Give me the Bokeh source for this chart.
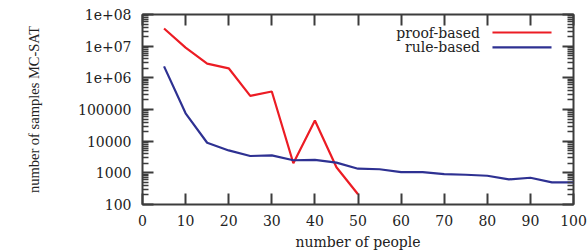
from bokeh.plotting import figure
from bokeh.models import (Range1d, FixedTicker, LinearAxis, LogAxis, Label)
from bokeh.embed import file_html
from bokeh.resources import INLINE

# ---- data ----
people = [5, 10, 15, 20, 25, 30, 35, 40, 45, 50, 55, 60, 65, 70, 75, 80, 85, 90, 95, 100]
proof_people = [5, 10, 15, 20, 25, 30, 35, 40, 45, 50]
proof_based = [3.6e7, 9.0e6, 2.8e6, 2.0e6, 2.7e5, 3.7e5, 2.0e3, 4.5e4, 1.5e3, 2.1e2]
rule_based = [2.3e6, 7.6e4, 8.9e3, 5.1e3, 3.4e3, 3.55e3, 2.5e3, 2.55e3, 2.1e3, 1.35e3,
              1.3e3, 1.05e3, 1.05e3, 9.1e2, 8.7e2, 8.1e2, 6.2e2, 7.0e2, 5.0e2, 5.0e2]
x_ticks = [0, 10, 20, 30, 40, 50, 60, 70, 80, 90, 100]
y_ticks = [1e2, 1e3, 1e4, 1e5, 1e6, 1e7, 1e8]
y_tick_labels = ["100", "1000", "10000", "100000", "1e+06", "1e+07", "1e+08"]

RED = "#ec1c24"
BLUE = "#2e3192"
FRAME = "#3c3c3c"
TEXT = "#222222"
FONT = "DejaVu Serif"

p = figure(width=588, height=252, output_backend="svg", toolbar_location=None,
           y_axis_type="log", x_range=Range1d(0, 100), y_range=Range1d(100, 1e8),
           min_border_left=142, min_border_right=15, min_border_top=14, min_border_bottom=48)
p.grid.visible = False
p.outline_line_color = FRAME
p.outline_line_width = 2
p.background_fill_color = "white"
p.border_fill_color = "white"

minor = [m * d for d in y_ticks[:-1] for m in range(2, 10)]

def style(ax, show_labels=True):
    ax.axis_line_color = None
    ax.major_tick_line_color = FRAME
    ax.minor_tick_line_color = FRAME
    ax.major_tick_line_width = 2
    ax.minor_tick_line_width = 1.5
    ax.major_tick_in = 11
    ax.major_tick_out = 0
    ax.minor_tick_in = 6
    ax.minor_tick_out = 0
    ax.major_label_text_font = FONT
    ax.major_label_text_font_size = "14px"
    ax.major_label_text_color = TEXT
    ax.axis_label_text_font = FONT
    ax.axis_label_text_font_size = "14px"
    ax.axis_label_text_font_style = "normal"
    ax.axis_label_text_color = TEXT
    if not show_labels:
        ax.major_label_text_font_size = "1px"
        ax.major_label_text_color = None
        ax.major_label_standoff = 0

xt = FixedTicker(ticks=x_ticks, minor_ticks=[])
yt = FixedTicker(ticks=y_ticks, minor_ticks=minor)

xa = p.xaxis[0]
xa.ticker = xt
style(xa)
xa.major_label_standoff = 10
xa.axis_label = "number of people"
xa.axis_label_standoff = 5

ya = p.yaxis[0]
ya.ticker = yt
style(ya)
ya.major_label_overrides = {v: s for v, s in zip(y_ticks, y_tick_labels)}
ya.major_label_standoff = 11
ya.axis_label = "number of samples MC-SAT"
ya.axis_label_text_font = "Liberation Serif"
ya.axis_label_text_font_size = "14.5px"
ya.axis_label_standoff = 33

top = LinearAxis(ticker=xt)
style(top, show_labels=False)
p.add_layout(top, "above")
right = LogAxis(ticker=yt)
style(right, show_labels=False)
p.add_layout(right, "right")

p.line(proof_people, proof_based, line_color=RED, line_width=2.2)
p.line(people, rule_based, line_color=BLUE, line_width=2.2)

# ---- legend (gnuplot style: text left, sample right) ----
legend_text_x = 78.3
legend_line_x0, legend_line_x1 = 81.2, 94.9
legend_rows = [("proof-based", RED, 2.7e7), ("rule-based", BLUE, 9.1e6)]
for name, col, yy in legend_rows:
    p.add_layout(Label(x=legend_text_x, y=yy, text=name, text_align="right",
                       text_baseline="middle", text_font=FONT, text_font_size="14px",
                       text_color=TEXT))
    p.segment(x0=[legend_line_x0], y0=[yy], x1=[legend_line_x1], y1=[yy],
              line_color=col, line_width=2.2)

open("out.html", "w").write(file_html(p, INLINE))
